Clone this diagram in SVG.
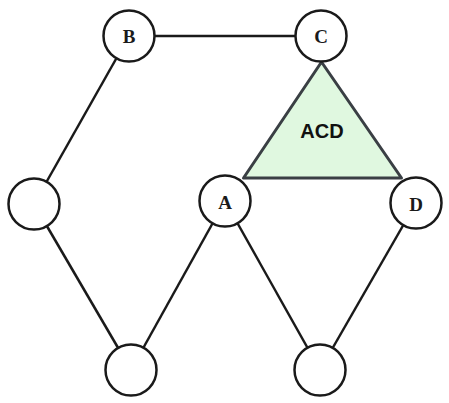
<svg xmlns="http://www.w3.org/2000/svg" width="449" height="403" viewBox="0 0 449 403">
<style>
.edge{stroke:#1a1a1a;stroke-width:2.5;fill:none}
.node{fill:#fff;stroke:#1a1a1a;stroke-width:2.5}
.lbl{font-family:"Liberation Serif","DejaVu Serif",serif;font-weight:bold;font-size:19px;fill:#1a1a1a;text-anchor:middle}
.tri{fill:#e0f8e0;stroke:#3a3f44;stroke-width:3;stroke-linejoin:round}
.tlbl{font-family:"Liberation Sans",Arial,sans-serif;font-weight:bold;font-size:20px;fill:#111;text-anchor:middle}
</style>
<rect width="449" height="403" fill="#fff"/>
<g id="connectors">
<line class="edge" x1="129" y1="36" x2="321" y2="36"/>
<line class="edge" x1="129" y1="36" x2="34" y2="204"/>
<line class="edge" x1="34" y1="204" x2="131" y2="370"/>
<line class="edge" x1="225" y1="201" x2="131" y2="370"/>
<line class="edge" x1="225" y1="201" x2="320" y2="370"/>
<line class="edge" x1="416" y1="203" x2="320" y2="370"/>
</g>
<g id="ACD">
<polygon class="tri" points="321.5,62 243.5,178 401.5,178"/>
<text class="tlbl" x="322" y="138">ACD</text>
</g>
<g id="B"><circle class="node" cx="129" cy="36" r="25.5"/><text class="lbl" x="129" y="43">B</text></g>
<g id="C"><circle class="node" cx="321" cy="36" r="25.5"/><text class="lbl" x="321" y="43">C</text></g>
<g id="L"><circle class="node" cx="34" cy="204" r="25.5"/></g>
<g id="A"><circle class="node" cx="225" cy="201" r="25.5"/><text class="lbl" x="225" y="208.5">A</text></g>
<g id="D"><circle class="node" cx="416" cy="203" r="25.5"/><text class="lbl" x="416" y="211">D</text></g>
<g id="BL"><circle class="node" cx="131" cy="370" r="25.5"/></g>
<g id="BR"><circle class="node" cx="320" cy="370" r="25.5"/></g>
</svg>
